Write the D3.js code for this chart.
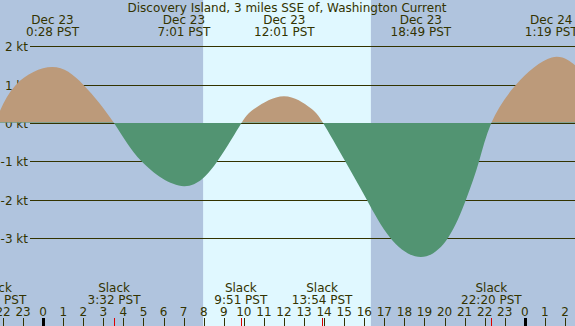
<!DOCTYPE html>
<html>
<head>
<meta charset="utf-8">
<script src="https://cdn.jsdelivr.net/npm/d3@7"></script>
<style>
  body { margin: 0; background: #fff; }
  svg text { font-family: 'DejaVu Sans', sans-serif; font-size: 12px; fill: #333300; }
</style>
</head>
<body>
<div id="chart"></div>
<script>
// hours from midnight Dec 23 (PST), current speed in knots
const hours = [-2.4, -1.35, 0.45, 2.0, 3.53,
  4.9, 7.02, 8.68, 9.88,
  10.6, 12.0, 13.3, 13.95,
  15.05, 16.12, 17.3, 18.82, 20.17, 21.07, 21.72, 22.33,
  23.56, 25.34, 26.5, 27.0];
const speeds = [0, 1.0, 1.46, 1.0, 0,
  -1.0, -1.65, -1.0, 0,
  0.4, 0.70, 0.4, 0,
  -1.0, -2.0, -3.0, -3.5, -3.0, -2.0, -1.0, 0,
  1.0, 1.71, 1.51, 1.35];

const yTicks = [2, 1, 0, -1, -2, -3];
const hourTicks = d3.range(-2, 27);

// max flood / ebb labels on top
const peakTimes = [0.467, 7.017, 12.017, 18.817, 25.317];
const peakDays = ['Dec 23', 'Dec 23', 'Dec 23', 'Dec 23', 'Dec 24'];
const peakLabels = ['0:28 PST', '7:01 PST', '12:01 PST', '18:49 PST', '1:19 PST'];

// slack labels on bottom
const slackTimes = [-2.35, 3.533, 9.85, 13.9, 22.333];
const slackLabels = ['21:39 PST', '3:32 PST', '9:51 PST', '13:54 PST', '22:20 PST'];

const sunrise = 7.97, sunset = 16.33;
const title = 'Discovery Island, 3 miles SSE of, Washington Current';

const width = 575, height = 326;

const x = d3.scaleLinear().domain([-2.15, 26.5]).range([0, width]);
const y = d3.scaleLinear().domain([0, 1]).range([123, 84.7]);

const svg = d3.select('#chart').append('svg')
  .attr('width', width)
  .attr('height', height);

// night / day background
svg.append('rect')
  .attr('width', width).attr('height', height)
  .attr('fill', '#b0c4de');
svg.append('rect')
  .attr('x', x(sunrise)).attr('y', 0)
  .attr('width', x(sunset) - x(sunrise)).attr('height', height)
  .attr('fill', '#e0f8ff');

// horizontal grid
svg.selectAll('line.grid')
  .data(yTicks).enter()
  .append('line')
  .attr('class', 'grid')
  .attr('x1', 30).attr('x2', width)
  .attr('y1', d => Math.round(y(d)) + 0.5)
  .attr('y2', d => Math.round(y(d)) + 0.5)
  .attr('stroke', '#333300')
  .attr('stroke-width', 1.2);

svg.selectAll('text.ylab')
  .data(yTicks).enter()
  .append('text')
  .attr('class', 'ylab')
  .attr('x', 28)
  .attr('y', d => Math.round(y(d)) + 5)
  .attr('text-anchor', 'end')
  .text(d => d + ' kt');

const pts = hours.map((h, i) => [h, speeds[i]]);
const area = d3.area()
  .curve(d3.curveNatural)
  .x(d => x(d[0]))
  .y0(y(0))
  .y1(d => y(d[1]));

const defs = svg.append('defs');
defs.append('clipPath').attr('id', 'clipPos')
  .append('rect').attr('x', 0).attr('y', 0).attr('width', width).attr('height', y(0) - 0.5);
defs.append('clipPath').attr('id', 'clipNeg')
  .append('rect').attr('x', 0).attr('y', y(0) - 0.5).attr('width', width).attr('height', height);

// flood (brown) then ebb (green)
svg.append('path')
  .datum(pts)
  .attr('d', area)
  .attr('fill', '#bc9a7a')
  .attr('clip-path', 'url(#clipPos)');
svg.append('path')
  .datum(pts)
  .attr('d', area)
  .attr('fill', '#529472')
  .attr('clip-path', 'url(#clipNeg)');

// title
svg.append('text')
  .attr('x', 287).attr('y', 12)
  .attr('text-anchor', 'middle')
  .text(title);

// top labels
const peakGroup = svg.selectAll('g.peak')
  .data(peakTimes).enter()
  .append('g')
  .attr('class', 'peak');
peakGroup.append('text')
  .attr('x', d => x(d)).attr('y', 24)
  .attr('text-anchor', 'middle')
  .text((d, i) => peakDays[i]);
peakGroup.append('text')
  .attr('x', d => x(d)).attr('y', 36)
  .attr('text-anchor', 'middle')
  .text((d, i) => peakLabels[i]);

// bottom slack labels
const slackGroup = svg.selectAll('g.slack')
  .data(slackTimes).enter()
  .append('g')
  .attr('class', 'slack');
slackGroup.append('text')
  .attr('x', d => x(d)).attr('y', 292)
  .attr('text-anchor', 'middle')
  .text('Slack');
slackGroup.append('text')
  .attr('x', d => x(d)).attr('y', 304)
  .attr('text-anchor', 'middle')
  .text((d, i) => slackLabels[i]);

// hour axis
const hourLabel = h => ((h % 24) + 24) % 24;
svg.selectAll('text.hour')
  .data(hourTicks).enter()
  .append('text')
  .attr('class', 'hour')
  .attr('x', d => x(d)).attr('y', 316)
  .attr('text-anchor', 'middle')
  .text(hourLabel);

svg.selectAll('line.tick')
  .data(hourTicks).enter()
  .append('line')
  .attr('class', 'tick')
  .attr('x1', d => Math.round(x(d)) + 0.5)
  .attr('x2', d => Math.round(x(d)) + 0.5)
  .attr('y1', 318).attr('y2', height)
  .attr('stroke', d => hourLabel(d) === 0 ? '#000' : '#333300')
  .attr('stroke-width', d => hourLabel(d) === 0 ? 3 : 1);

// slack markers
svg.selectAll('line.slackTick')
  .data(slackTimes).enter()
  .append('line')
  .attr('class', 'slackTick')
  .attr('x1', d => Math.round(x(d)) + 0.5)
  .attr('x2', d => Math.round(x(d)) + 0.5)
  .attr('y1', 318).attr('y2', height)
  .attr('stroke', '#dd0000')
  .attr('stroke-width', 1);
</script>
</body>
</html>
